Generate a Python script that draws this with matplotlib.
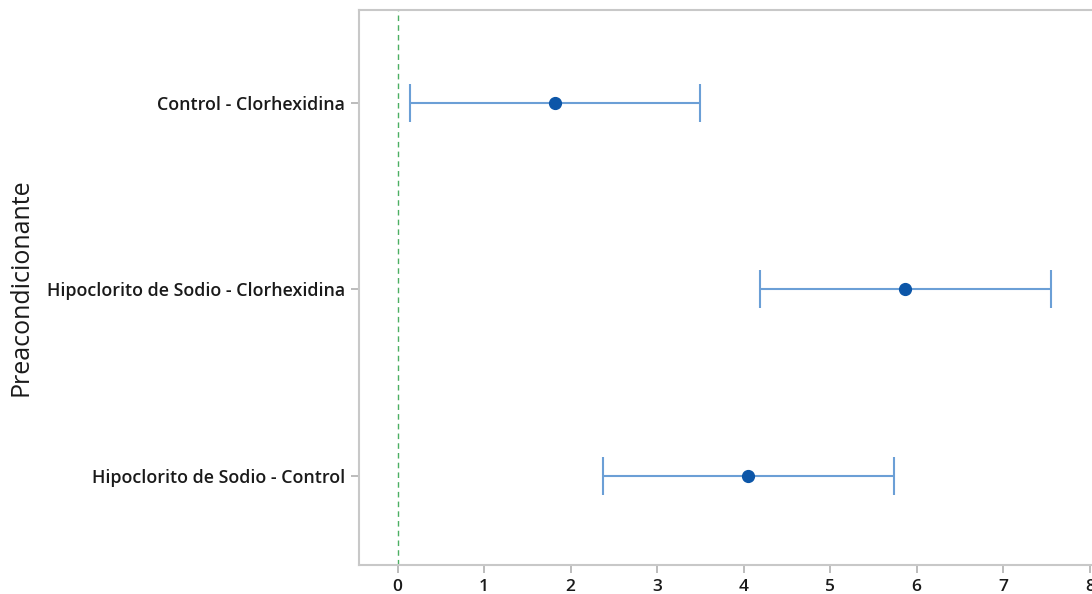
import matplotlib
matplotlib.use("Agg")
import matplotlib.pyplot as plt

# Tukey simultaneous 95% CIs for differences of means
comparisons = ["Control - Clorhexidina",
               "Hipoclorito de Sodio - Clorhexidina",
               "Hipoclorito de Sodio - Control"]
diff_center = [1.82, 5.86, 4.05]
ci_lower = [0.14, 4.19, 2.37]
ci_upper = [3.50, 7.55, 5.74]
x_ticks = [0, 1, 2, 3, 4, 5, 6, 7, 8]

plt.rcParams['font.family'] = ['Open Sans', 'DejaVu Sans']

fig = plt.figure(figsize=(10.92, 5.94), dpi=100)
ax = fig.add_axes([0.3288, 0.0488, 0.7088, 0.9345])

ypos = list(range(len(comparisons)))
err_lo = [c - l for c, l in zip(diff_center, ci_lower)]
err_hi = [u - c for c, u in zip(diff_center, ci_upper)]

ax.axvline(0, color="#4caf62", linestyle=(0, (4, 3)), linewidth=1.0, zorder=1)
ax.errorbar(diff_center, ypos, xerr=[err_lo, err_hi], fmt="none",
            ecolor="#6b9fd6", elinewidth=1.5, capsize=14, capthick=1.5, zorder=2)
ax.plot(diff_center, ypos, "o", color="#0c56a8", markersize=8.5, zorder=3)

ax.set_xlim(-0.445, 8.5)
ax.set_ylim(2.48, -0.5)
ax.set_xticks(x_ticks)
ax.set_yticks(ypos)
ax.set_yticklabels(comparisons)

for side in ["left", "bottom", "top", "right"]:
    ax.spines[side].set_color("#c8c8c8")
    ax.spines[side].set_linewidth(1.5)

ax.tick_params(axis="both", colors="#b0b0b0", length=6, width=1.2,
               labelcolor="#1a1a1a")
ax.tick_params(axis="y", labelsize=12.9, pad=4)
ax.tick_params(axis="x", labelsize=12.5, pad=4)
for lab in ax.get_yticklabels() + ax.get_xticklabels():
    lab.set_fontweight("semibold")

ax.set_ylabel("Preacondicionante", fontsize=18, color="#1a1a1a")
ax.yaxis.set_label_coords(-0.42, 0.5)

fig.savefig("out.png", dpi=100)
